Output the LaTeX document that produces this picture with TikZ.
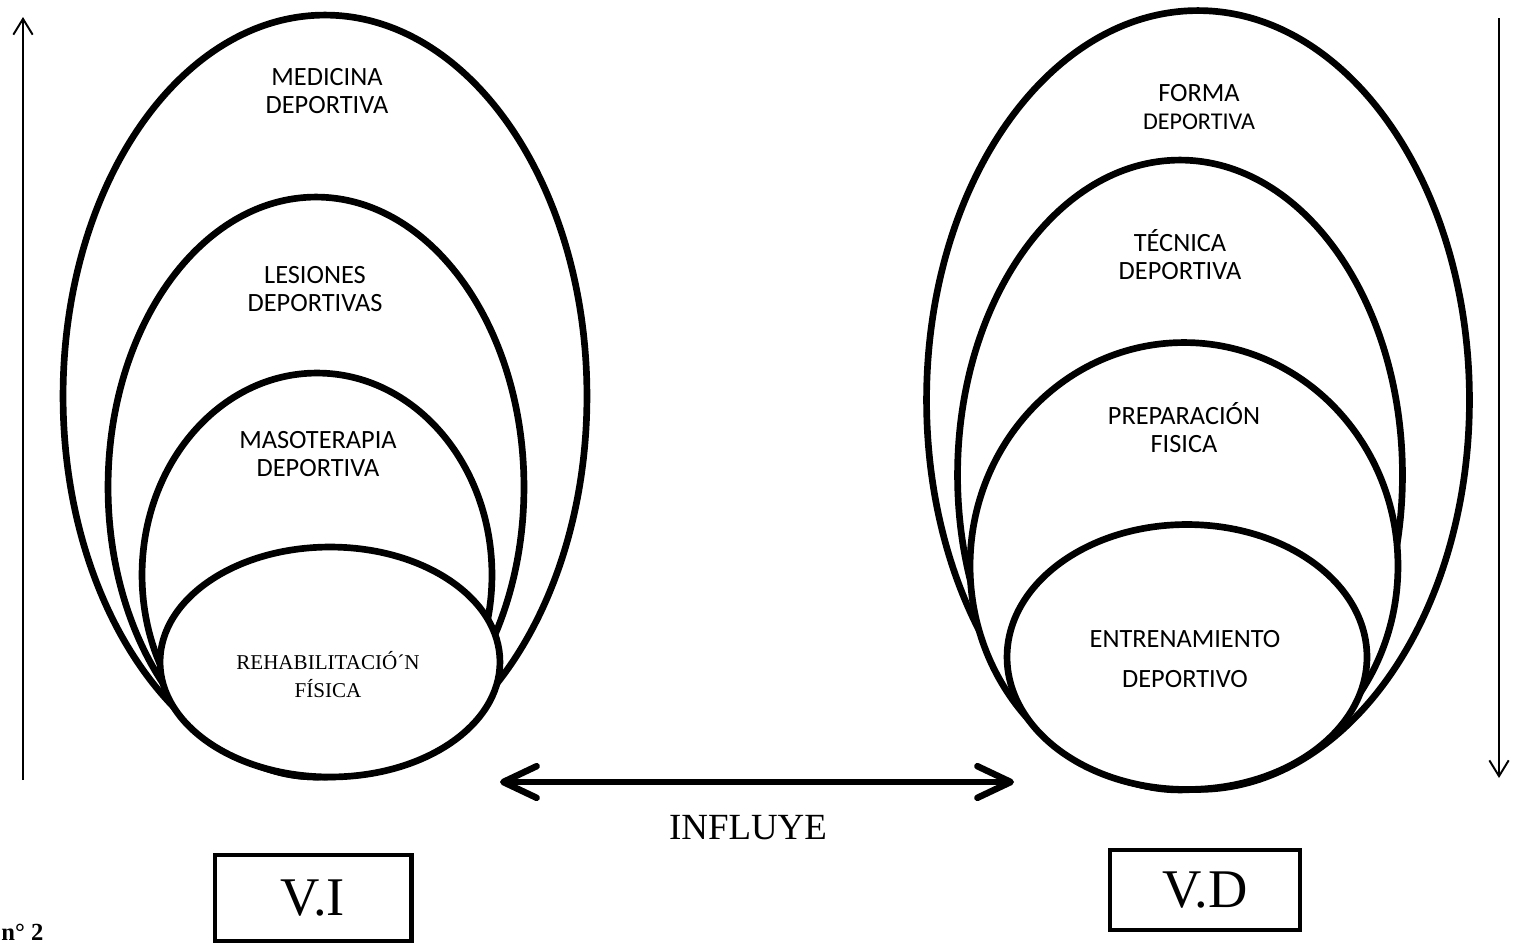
\documentclass[tikz,border=0pt]{standalone}
\usepackage{fontspec}
\setmainfont{Liberation Serif}
\newfontfamily\calibri{Carlito}
\usetikzlibrary{arrows.meta,positioning,shapes.geometric}
\definecolor{ink}{HTML}{000000}
\tikzset{
  ring/.style={ellipse, draw=ink, line width=3.8pt, fill=white, inner sep=0pt},
  ringtext/.style={font=\calibri\fontsize{15}{15.9}\selectfont, text=ink, align=center},
  seriftext/.style={font=\fontsize{12}{15.9}\selectfont, text=ink, align=center},
  varbox/.style={draw=ink, line width=2.3pt, fill=white, inner sep=0pt, font=\fontsize{31}{31}\selectfont},
  axisarrow/.style={-{Straight Barb[length=9pt,width=11pt]}, line width=1.1pt, draw=ink},
  bigarrow/.style={{Straight Barb[round,length=19pt,width=18pt]}-{Straight Barb[round,length=19pt,width=18pt]}, line width=3.7pt, line cap=round, draw=ink},
}
\begin{document}
\begin{tikzpicture}[x=0.02cm, y=-0.02cm]
\useasboundingbox (0,0) rectangle (1513,943);
% independent variable
\node[ring, minimum width=10.48cm, minimum height=15.24cm] (medic) at (325,396) {};
\node[ring, minimum width=8.32cm, minimum height=11.6cm] (lesion) at (316,487) {};
\node[ring, minimum width=7.0cm, minimum height=8.08cm] (maso) at (317,575) {};
\node[ring, minimum width=6.8cm, minimum height=4.6cm] (rehab) at (330,662) {};
\node[ringtext] (medict) at (327,91) {MEDICINA\\DEPORTIVA};
\node[ringtext] (lesiont) at (315,289) {LESIONES\\DEPORTIVAS};
\node[ringtext] (masot) at (318,454) {MASOTERAPIA\\DEPORTIVA};
\node[seriftext] (rehabt) at (328,675) {REHABILITACIÓ´N\\FÍSICA};
% dependent variable
\node[ring, minimum width=10.86cm, minimum height=15.58cm] (forma) at (1198,400) {};
\node[ring, minimum width=8.9cm, minimum height=12.6cm] (tecnica) at (1180,475) {};
\node[ring, minimum width=8.56cm, minimum height=8.94cm] (prep) at (1184,566) {};
\node[ring, minimum width=7.2cm, minimum height=5.3cm] (entren) at (1187,657) {};
\node[ringtext] (format) at (1199,107) {FORMA\\{\fontsize{13.7}{14}\selectfont DEPORTIVA}};
\node[ringtext] (tecnicat) at (1180,255) {TÉCNICA\\DEPORTIVA};
\node[ringtext] (prept) at (1184,428) {PREPARACIÓN\\FISICA};
\node[ringtext] (entrent) at (1185,659) {ENTRENAMIENTO\\[6.8pt]DEPORTIVO};
% axes and relation
\coordinate (upbot) at (23,780); \coordinate (uptop) at (23,17);
\coordinate (downtop) at (1499,18); \coordinate (downbot) at (1499,778);
\draw[axisarrow] (upbot) -- (uptop);
\draw[axisarrow] (downtop) -- (downbot);
\coordinate (influL) at (500,782); \coordinate (influR) at (1014,782);
\draw[bigarrow] (influL) -- (influR);
\node[font=\fontsize{21}{21}\selectfont] (influye) at (748,828) {INFLUYE};
\node[varbox, minimum width=3.94cm, minimum height=1.72cm] (vi) at (313,898) {V.I};
\node[varbox, minimum width=3.8cm, minimum height=1.6cm] (vd) at (1205,890) {V.D};
\node[anchor=base west, inner sep=0pt, font=\bfseries\fontsize{14}{14}\selectfont] (fig) at (1,940) {n° 2};
\end{tikzpicture}
\end{document}
